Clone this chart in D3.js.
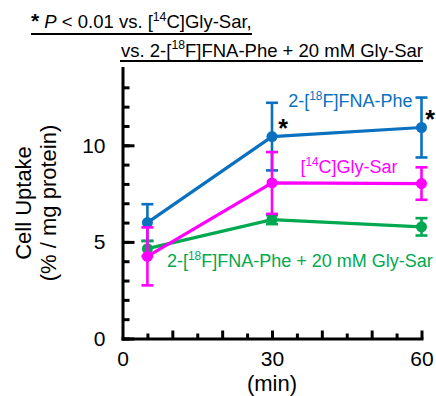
<!DOCTYPE html>
<html>
<head>
<meta charset="utf-8">
<script src="https://cdn.jsdelivr.net/npm/d3@7"></script>
<style>
  html, body { margin: 0; padding: 0; background: #fff; }
  svg { display: block; font-family: "Liberation Sans", Arial, sans-serif; }
</style>
</head>
<body>
<div id="chart"></div>
<script>
// time points (min)
const times = [5, 30, 60];

// 2-[18F]FNA-Phe
const fnaPhe = [6.0, 10.45, 10.92];
const fnaPheErr = [0.95, 1.75, 1.55];

// [14C]Gly-Sar
const glySar = [4.25, 8.05, 8.02];
const glySarErr = [1.5, 1.6, 0.84];

// 2-[18F]FNA-Phe + 20 mM Gly-Sar
const fnaPheBlock = [4.65, 6.15, 5.78];
const fnaPheBlockErr = [0.4, 0.23, 0.45];

const xMajorTicks = [0, 30, 60];
const yMajorTicks = [0, 5, 10];

const blue = "#0a70c0", magenta = "#ff00ff", green = "#00a94f";

const W = 436, H = 396;
const svg = d3.select("#chart").append("svg")
  .attr("width", W).attr("height", H);

const x = d3.scaleLinear().domain([0, 60]).range([122.5, 421.5]);
const y = d3.scaleLinear().domain([0, 14]).range([338.5, 68]);

// helper for text with superscripts: parts like ["2-[", ["18"], "F]FNA-Phe"]
function richText(sel, parts, size) {
  let raised = false;
  parts.forEach(function(p) {
    if (Array.isArray(p)) {
      sel.append("tspan").attr("font-size", size * 0.66).attr("dy", -size * 0.38).text(p[0]);
      raised = true;
    } else {
      const t = sel.append("tspan").text(p);
      if (raised) { t.attr("dy", size * 0.38); raised = false; }
    }
  });
}

// ---- axes ----
svg.append("g").attr("transform", "translate(" + x(0) + ",0)")
  .call(d3.axisLeft(y).tickValues(d3.range(0, 14)).tickSize(-7).tickSizeOuter(0).tickFormat(""));
const yMajor = svg.append("g").attr("transform", "translate(" + x(0) + ",0)")
  .call(d3.axisLeft(y).tickValues(yMajorTicks).tickSize(-12).tickSizeOuter(0).tickPadding(17));
yMajor.select(".domain").remove();

svg.append("g").attr("transform", "translate(0," + y(0) + ")")
  .call(d3.axisBottom(x).tickValues(d3.range(5, 61, 10)).tickSize(-5).tickSizeOuter(0).tickFormat(""));
const xMid = svg.append("g").attr("transform", "translate(0," + y(0) + ")")
  .call(d3.axisBottom(x).tickValues(d3.range(10, 61, 10)).tickSize(-8).tickSizeOuter(0).tickFormat(""));
xMid.select(".domain").remove();
const xLab = svg.append("g").attr("transform", "translate(0," + y(0) + ")")
  .call(d3.axisBottom(x).tickValues(xMajorTicks).tickSize(0).tickPadding(13));
xLab.select(".domain").remove();

svg.selectAll(".domain").attr("stroke", "#000").attr("stroke-width", 3).attr("stroke-linecap", "square");
svg.selectAll(".tick line").attr("stroke", "#000").attr("stroke-width", 3);
svg.selectAll(".tick text").attr("font-size", 21).attr("fill", "#000")
  .attr("font-family", "Liberation Sans, Arial, sans-serif");

// axis titles
svg.append("text").attr("x", x(30)).attr("y", 391).attr("text-anchor", "middle")
  .attr("font-size", 22).text("(min)");
svg.append("text").attr("transform", "translate(31,203) rotate(-90)")
  .attr("text-anchor", "middle").attr("font-size", 22).text("Cell Uptake");
svg.append("text").attr("transform", "translate(56,203) rotate(-90)")
  .attr("text-anchor", "middle").attr("font-size", 22).text("(% / mg protein)");

// ---- series ----
const series = [
  { vals: fnaPhe, err: fnaPheErr, color: blue },
  { vals: fnaPheBlock, err: fnaPheBlockErr, color: green },
  { vals: glySar, err: glySarErr, color: magenta }
];

const line = d3.line().x(function(d) { return x(d[0]); }).y(function(d) { return y(d[1]); });

series.forEach(function(s) {
  const pts = times.map(function(t, i) { return [t, s.vals[i], s.err[i]]; });
  const g = svg.append("g");
  g.append("path").attr("d", line(pts)).attr("fill", "none")
    .attr("stroke", s.color).attr("stroke-width", 3.2);
  const eb = g.selectAll(".eb").data(pts).enter().append("g");
  eb.append("line")
    .attr("x1", function(d) { return x(d[0]); }).attr("x2", function(d) { return x(d[0]); })
    .attr("y1", function(d) { return y(d[1] - d[2]); }).attr("y2", function(d) { return y(d[1] + d[2]); })
    .attr("stroke", s.color).attr("stroke-width", 2.6);
  [-1, 1].forEach(function(sign) {
    eb.append("line")
      .attr("x1", function(d) { return x(d[0]) - 6; }).attr("x2", function(d) { return x(d[0]) + 6; })
      .attr("y1", function(d) { return y(d[1] + sign * d[2]); })
      .attr("y2", function(d) { return y(d[1] + sign * d[2]); })
      .attr("stroke", s.color).attr("stroke-width", 2.6);
  });
  eb.append("circle")
    .attr("cx", function(d) { return x(d[0]); }).attr("cy", function(d) { return y(d[1]); })
    .attr("r", 5.5).attr("fill", s.color);
});

// significance asterisks
[1, 2].forEach(function(i) {
  svg.append("text").attr("x", x(times[i]) + (i === 1 ? 11 : 8.5)).attr("y", y(fnaPhe[i]) + (i === 1 ? 0 : 0.5))
    .attr("text-anchor", "middle").attr("font-size", 25).attr("font-weight", "bold").text("*");
});

// series labels
richText(svg.append("text").attr("x", x(60) - 9).attr("y", 107).attr("text-anchor", "end")
  .attr("font-size", 18).attr("fill", blue), ["2-[", ["18"], "F]FNA-Phe"], 18);
richText(svg.append("text").attr("x", 349).attr("y", 173).attr("text-anchor", "middle")
  .attr("font-size", 18).attr("fill", magenta), ["[", ["14"], "C]Gly-Sar"], 18);
richText(svg.append("text").attr("x", 167).attr("y", 267)
  .attr("font-size", 18).attr("fill", green), ["2-[", ["18"], "F]FNA-Phe + 20 mM Gly-Sar"], 18);

// header notes
const t1 = svg.append("text").attr("x", 31).attr("y", 28).attr("font-size", 18.5);
t1.append("tspan").attr("font-weight", "bold").attr("font-size", 21).text("*");
t1.append("tspan").text(" ");
t1.append("tspan").attr("font-style", "italic").text("P");
richText(t1, [" < 0.01 vs. [", ["14"], "C]Gly-Sar,"], 18.5);
const t2 = svg.append("text").attr("x", 121).attr("y", 56.5).attr("font-size", 18.5);
richText(t2, ["vs. 2-[", ["18"], "F]FNA-Phe + 20 mM Gly-Sar"], 18.5);

svg.append("line").attr("x1", 31).attr("x2", 252).attr("y1", 34).attr("y2", 34)
  .attr("stroke", "#000").attr("stroke-width", 2);
svg.append("line").attr("x1", 120).attr("x2", 423).attr("y1", 61).attr("y2", 61)
  .attr("stroke", "#000").attr("stroke-width", 2);
</script>
</body>
</html>
